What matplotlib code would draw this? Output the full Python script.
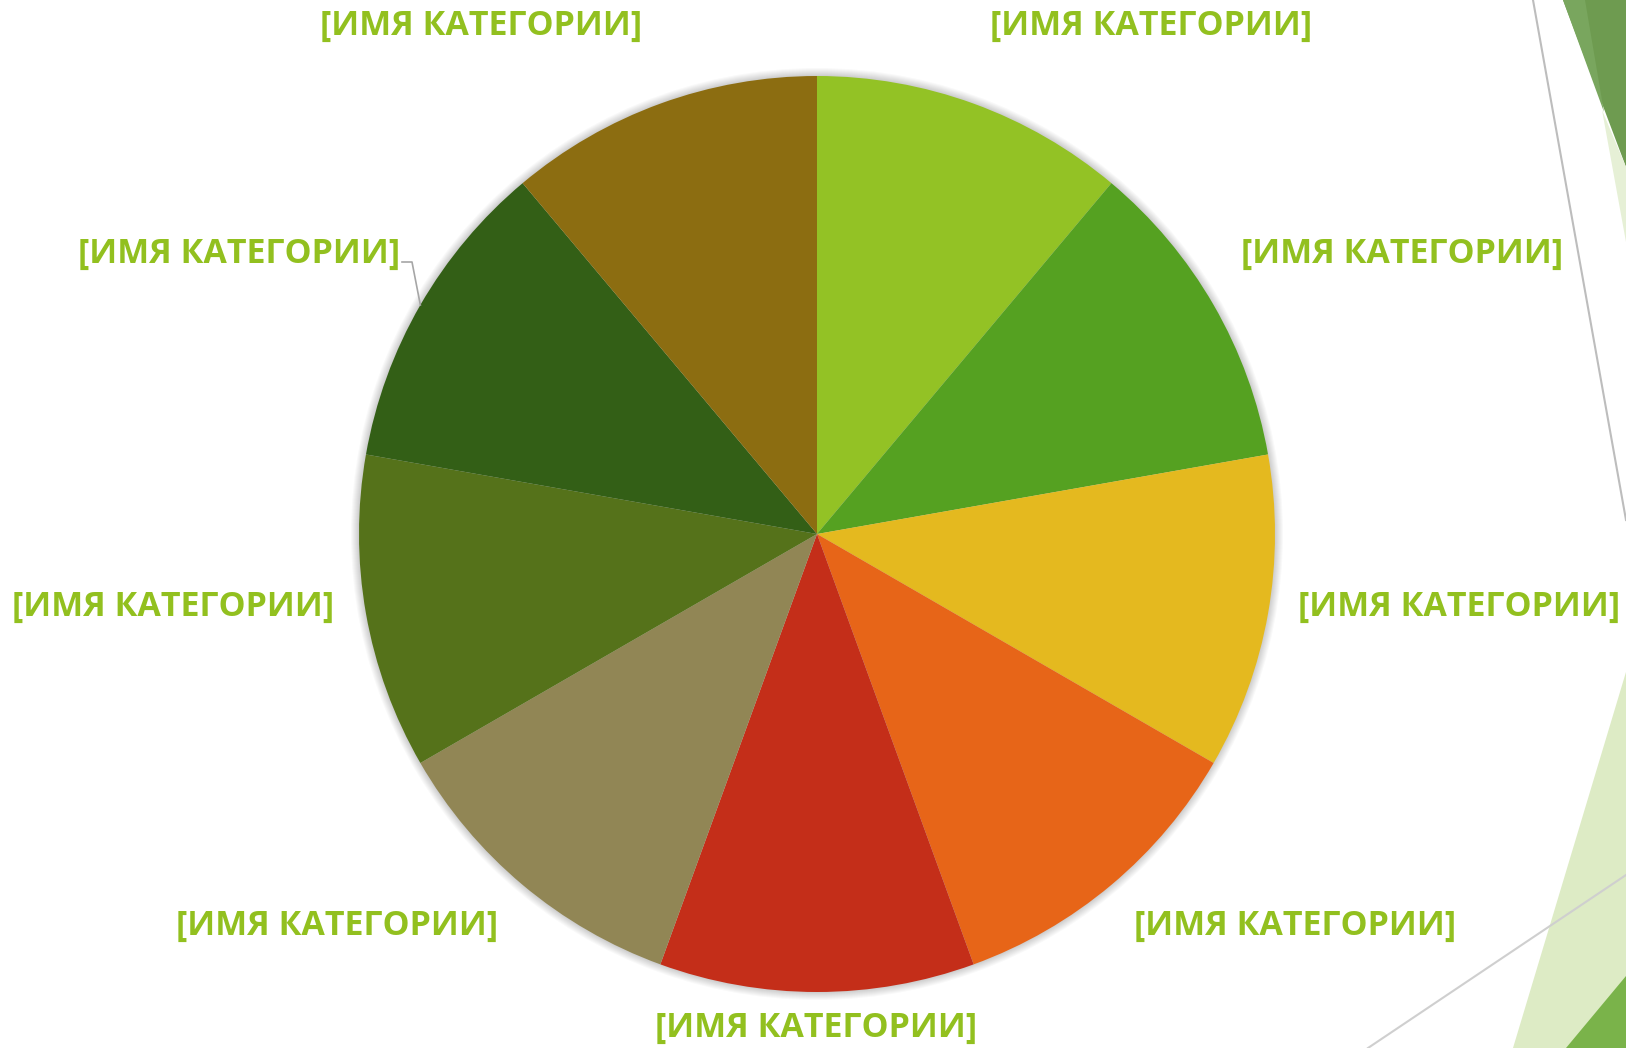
import numpy as np
import matplotlib.pyplot as plt
from matplotlib.patches import Polygon, Circle

# Data: nine equal categories (placeholder names from the template)
categories = ["[ИМЯ КАТЕГОРИИ]"] * 9
values = [1, 1, 1, 1, 1, 1, 1, 1, 1]
colors = ["#93C225", "#55A121", "#E4B91F", "#E76518", "#C42E19",
          "#918655", "#55721A", "#335F16", "#8C6D11"]

# Layout (pixels, y measured from the top of the image)
W, H = 1626, 1048
CX, CY, R = 817, 534, 458
label_xy = [(1151, 26), (1402, 254), (1459, 607), (1295, 926), (816, 1028),
            (337, 926), (173, 607), (239, 254), (481, 26)]
LABEL_COLOR = "#92C01F"

plt.rcParams['font.family'] = ['Open Sans', 'DejaVu Sans']

fig = plt.figure(figsize=(W / 100, H / 100), dpi=100)
ax = fig.add_axes([0, 0, 1, 1])

def up(y):
    return H - y

# --- slide decoration on the right edge ---
deco = [
    ([(1563, 0), (W, 0), (W, 167)], "#6E9B50"),
    ([(1563, 0), (1585, 0), (1604, 112)], "#79A65E"),
    ([(1602, 110), (W, 167), (W, 242)], "#E6F0D6"),
    ([(W, 672), (W, H), (1513, H)], "#DDEBC5"),
    ([(W, 976), (W, H), (1566, H)], "#7AB34A"),
]
for pts, c in deco:
    ax.add_patch(Polygon([(x, up(y)) for x, y in pts], closed=True,
                         facecolor=c, edgecolor='none', zorder=0))
ax.plot([1533, W], [up(0), up(520)], color="#BDBDBD", lw=1.5, zorder=1)
ax.plot([1368, W], [up(H), up(875)], color="#CFCFCF", lw=1.5, zorder=1)

# soft shadow around the pie
for k in range(1, 9):
    ax.add_patch(Circle((CX, up(CY)), R + k, facecolor='#000000',
                        edgecolor='none', alpha=0.025, zorder=1))

wedges, _ = ax.pie(values, colors=colors, startangle=90, counterclock=False,
                   center=(CX, up(CY)), radius=R,
                   wedgeprops=dict(linewidth=0, edgecolor='none'))
for w in wedges:
    w.set_zorder(2)

for (x, y), name in zip(label_xy, categories):
    ax.text(x, up(y), name, ha='center', va='center', fontsize=24.5,
            fontweight='bold', color=LABEL_COLOR, zorder=3)

# leader line for the upper-left label
w8 = wedges[7]
mid = np.deg2rad((w8.theta1 + w8.theta2) / 2)
px, py = CX + R * np.cos(mid), up(CY) + R * np.sin(mid)
ax.plot([402, 412, px], [up(262), up(262), py], color="#A6A6A6", lw=1.2, zorder=3)

ax.set_xlim(0, W)
ax.set_ylim(0, H)
ax.set_aspect('equal')
ax.axis('off')

plt.savefig("out.png", dpi=100)
